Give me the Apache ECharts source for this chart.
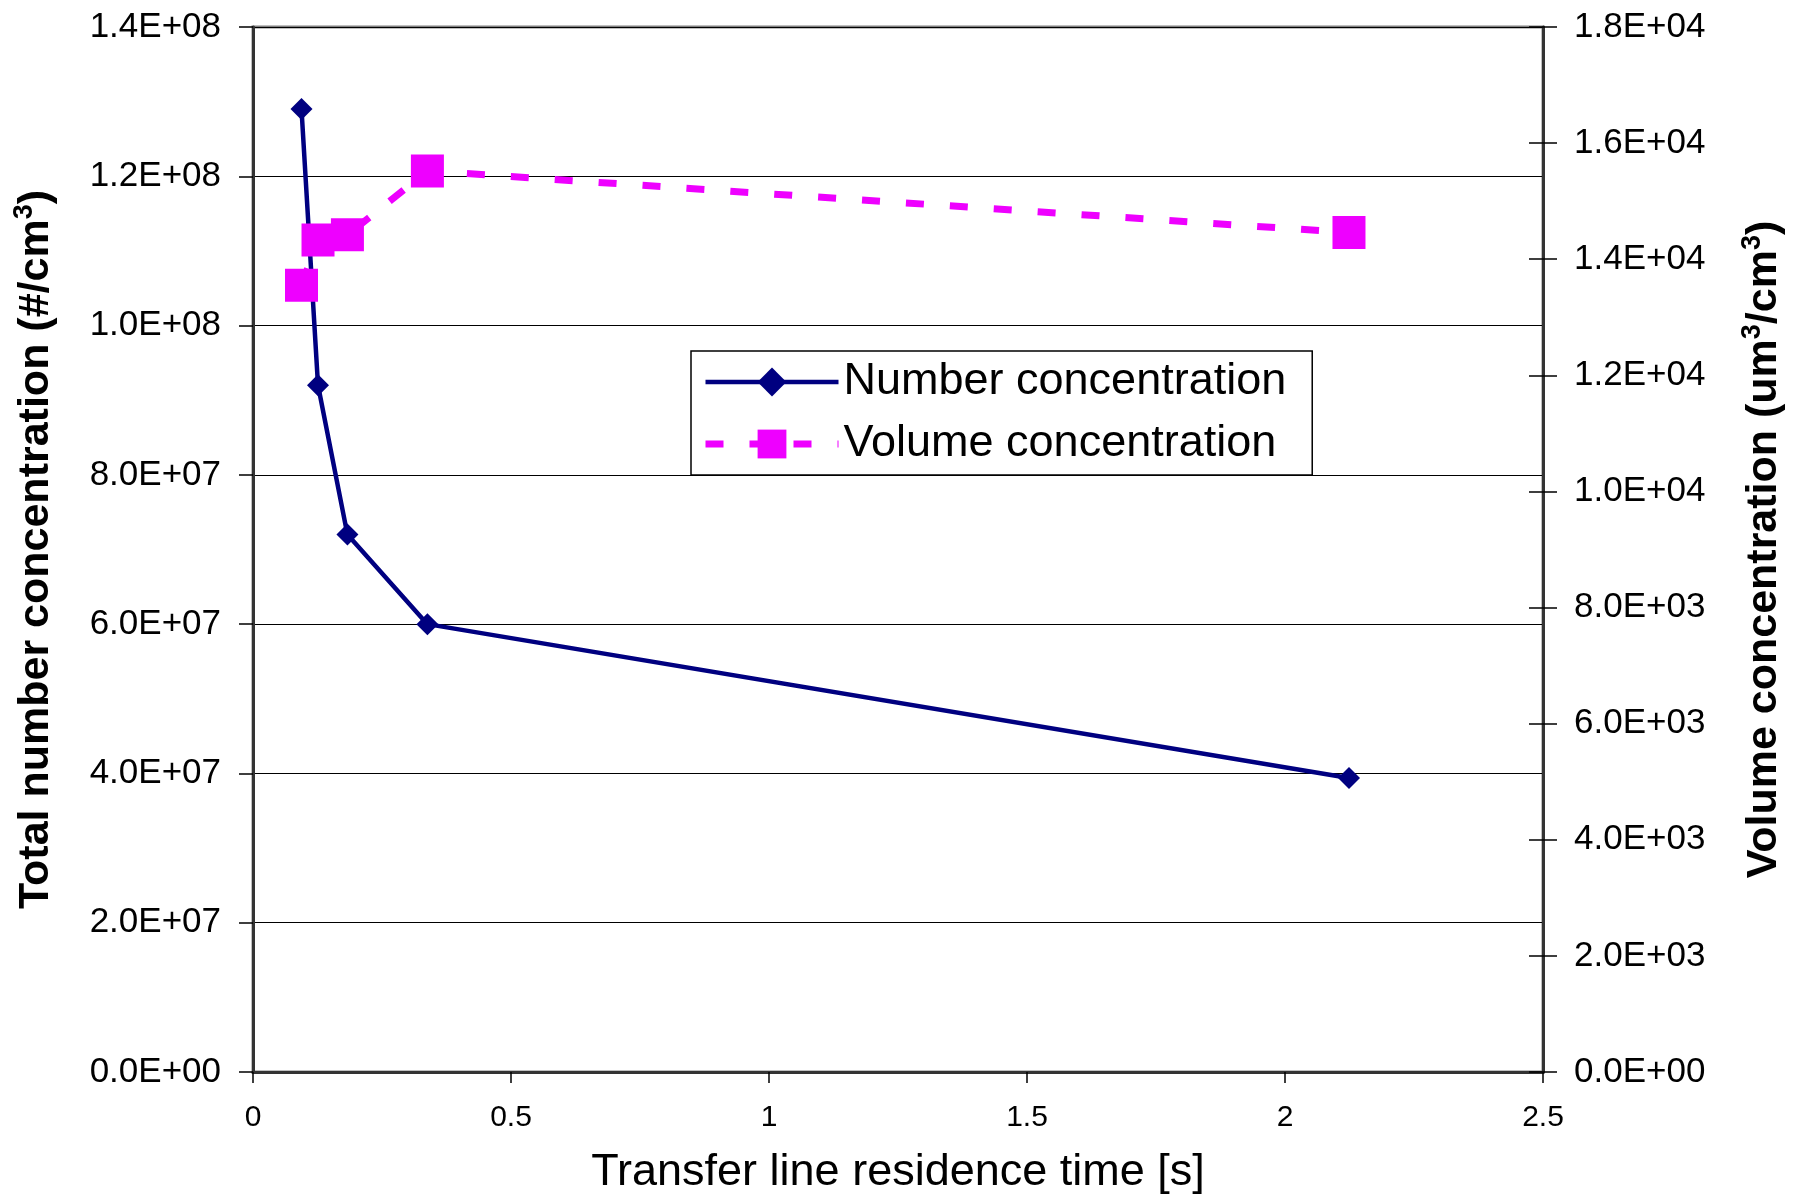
<!DOCTYPE html>
<html>
<head>
<meta charset="utf-8">
<style>
html,body{margin:0;padding:0;background:#fff;}
#chart{width:1805px;height:1197px;}
</style>
<script src="https://cdn.jsdelivr.net/npm/echarts@6/dist/echarts.min.js"></script>
</head>
<body>
<div id="chart"></div>
<script>
// ---- data ----
const residenceTime = [0.094, 0.126, 0.183, 0.338, 2.124];
const numberConcentration = [1.29e8, 9.2e7, 7.2e7, 6.0e7, 3.94e7];
const volumeConcentration = [13550, 14330, 14420, 15520, 14460];
const leftTickLabels = ['0.0E+00','2.0E+07','4.0E+07','6.0E+07','8.0E+07','1.0E+08','1.2E+08','1.4E+08'];
const rightTickLabels = ['0.0E+00','2.0E+03','4.0E+03','6.0E+03','8.0E+03','1.0E+04','1.2E+04','1.4E+04','1.6E+04','1.8E+04'];
const xTickLabels = ['0','0.5','1','1.5','2','2.5'];
const seriesNames = ['Number concentration', 'Volume concentration'];

const FONT = '"Liberation Sans", Arial, sans-serif';
const NAVY = '#000080';
const MAGENTA = '#EE00FF';

const chart = echarts.init(document.getElementById('chart'), null, {renderer: 'canvas'});

const titleStyle = {
  fontFamily: FONT, fontSize: 43, fontWeight: 'bold', color: '#000', lineHeight: 50,
  rich: { sup: { fontFamily: FONT, fontSize: 27, fontWeight: 'bold', color: '#000', verticalAlign: 'top', lineHeight: 30 } }
};

const numberLine = { color: NAVY, width: 4.5 };
const volumeLine = { color: MAGENTA, width: 7, type: [18, 26] };

const option = {
  backgroundColor: '#fff',
  animation: false,
  grid: { left: 253, right: 262, top: 27, bottom: 125, containLabel: false, outerBoundsMode: 'none',
    show: true, borderColor: '#808080', borderWidth: 3, backgroundColor: 'transparent' },
  legend: {
    data: [
      { name: seriesNames[0], lineStyle: numberLine },
      { name: seriesNames[1], lineStyle: volumeLine }
    ],
    orient: 'vertical',
    left: 691, top: 351,
    padding: [6, 26, 6, 11],
    itemWidth: 133, itemHeight: 36, itemGap: 12,
    backgroundColor: '#fff',
    borderColor: '#000', borderWidth: 1.5,
    textStyle: { fontFamily: FONT, fontSize: 45, color: '#000', lineHeight: 50 }
  },
  xAxis: {
    type: 'value', min: 0, max: 2.5, interval: 0.5,
    name: 'Transfer line residence time [s]',
    nameLocation: 'middle', nameGap: 78,
    nameTextStyle: { fontFamily: FONT, fontSize: 45, color: '#000' },
    axisLine: { show: true, onZero: false, lineStyle: { color: '#333', width: 3 } },
    axisTick: { show: true, inside: false, length: 11, lineStyle: { color: '#000', width: 1.5 } },
    axisLabel: { margin: 31, fontFamily: FONT, fontSize: 30, color: '#000',
      formatter: v => xTickLabels[Math.round(v / 0.5)] },
    splitLine: { show: false }
  },
  yAxis: [
    {
      type: 'value', min: 0, max: 1.4e8, interval: 2e7, position: 'left',
      name: 'Total number concentration (#/cm{sup|3})',
      nameLocation: 'middle', nameGap: 192, nameRotate: 90,
      nameTextStyle: titleStyle,
      axisLine: { show: true, lineStyle: { color: '#333', width: 3 } },
      axisTick: { show: true, inside: false, length: 14, lineStyle: { color: '#000', width: 1.5 } },
      axisLabel: { margin: 32, fontFamily: FONT, fontSize: 35, color: '#000',
        formatter: v => leftTickLabels[Math.round(v / 2e7)] },
      splitLine: { show: true, lineStyle: { color: '#000', width: 1.2 } }
    },
    {
      type: 'value', min: 0, max: 1.8e4, interval: 2e3, position: 'right',
      name: 'Volume concentration (um{sup|3}/cm{sup|3})',
      nameLocation: 'middle', nameGap: 196, nameRotate: 90,
      nameTextStyle: titleStyle,
      axisLine: { show: true, lineStyle: { color: '#333', width: 3 } },
      axisTick: { show: true, inside: false, length: 14, lineStyle: { color: '#000', width: 1.5 } },
      axisLabel: { margin: 31, fontFamily: FONT, fontSize: 35, color: '#000',
        formatter: v => rightTickLabels[Math.round(v / 2e3)] },
      splitLine: { show: false }
    },
    {
      type: 'value', min: 0, max: 1.8e4, interval: 2e3, position: 'right',
      axisLine: { show: false },
      axisTick: { show: true, inside: true, length: 14, lineStyle: { color: '#000', width: 1.5 } },
      axisLabel: { show: false },
      splitLine: { show: false }
    }
  ],
  series: [
    {
      name: seriesNames[0], type: 'line', yAxisIndex: 0,
      data: residenceTime.map((x, i) => [x, numberConcentration[i]]),
      symbol: 'diamond', symbolSize: 22,
      lineStyle: numberLine,
      itemStyle: { color: NAVY },
      z: 3
    },
    {
      name: seriesNames[1], type: 'line', yAxisIndex: 1,
      data: residenceTime.map((x, i) => [x, volumeConcentration[i]]),
      symbol: 'rect', symbolSize: 33,
      lineStyle: volumeLine,
      itemStyle: { color: MAGENTA },
      z: 4
    }
  ]
};
chart.setOption(option);
</script>
</body>
</html>
